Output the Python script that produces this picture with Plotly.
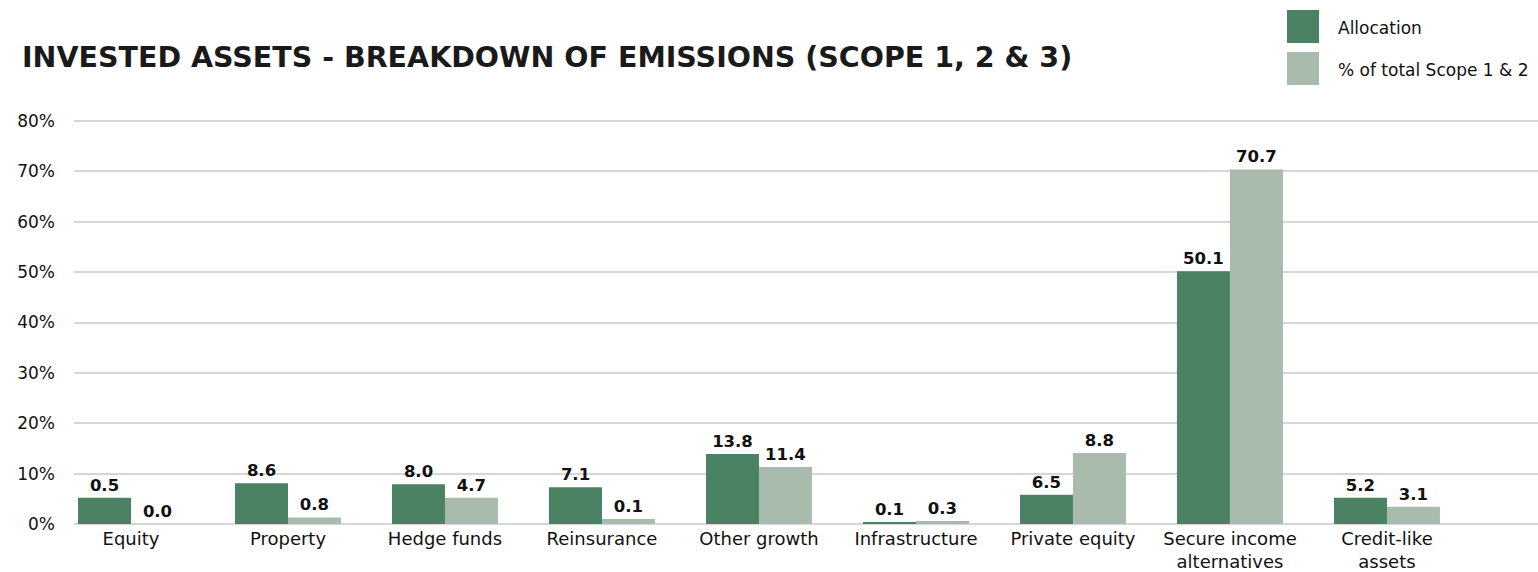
import plotly.graph_objects as go

categories = ["Equity", "Property", "Hedge funds", "Reinsurance", "Other growth",
              "Infrastructure", "Private equity", "Secure income<br>alternatives",
              "Credit-like<br>assets"]
allocation = [5.2, 8.1, 7.9, 7.3, 13.9, 0.4, 5.8, 50.2, 5.2]
allocation_labels = ["0.5", "8.6", "8.0", "7.1", "13.8", "0.1", "6.5", "50.1", "5.2"]
scope12 = [0.0, 1.3, 5.2, 1.0, 11.3, 0.6, 14.1, 70.4, 3.4]
scope12_labels = ["0.0", "0.8", "4.7", "0.1", "11.4", "0.3", "8.8", "70.7", "3.1"]
y_ticks = [0, 10, 20, 30, 40, 50, 60, 70, 80]
y_tick_labels = ["0%", "10%", "20%", "30%", "40%", "50%", "60%", "70%", "80%"]
series_names = ["Allocation", "% of total Scope 1 & 2"]

DARK = "#4a8263"
LIGHT = "#a9bbac"
TXT = "#111111"
FONT = "DejaVu Sans"
W, H = 1538, 572
ML, MR, MT, MB = 74, 0, 116, 48

label_font = dict(family=FONT, size=16.5, color=TXT, weight="bold")

fig = go.Figure()
fig.add_trace(go.Bar(x=categories, y=allocation, name=series_names[0],
                     marker=dict(color=DARK, line=dict(width=0)),
                     text=allocation_labels, textposition="outside",
                     textfont=label_font, cliponaxis=False))
fig.add_trace(go.Bar(x=categories, y=scope12, name=series_names[1],
                     marker=dict(color=LIGHT, line=dict(width=0)),
                     text=scope12_labels, textposition="outside",
                     textfont=label_font, cliponaxis=False))

fig.update_layout(
    width=W, height=H,
    margin=dict(l=ML, r=MR, t=MT, b=MB, autoexpand=False),
    paper_bgcolor="white", plot_bgcolor="white",
    barmode="group", bargap=0.325, bargroupgap=0,
    showlegend=False,
    title=dict(text="<b>INVESTED ASSETS - BREAKDOWN OF EMISSIONS (SCOPE 1, 2 & 3)</b>",
               x=22 / W, xanchor="left", xref="container",
               y=1 - 57 / H, yanchor="middle", yref="container",
               font=dict(family=FONT, size=28.5, color="#1a1a1a")),
    font=dict(family=FONT, color=TXT),
)
fig.update_xaxes(range=[-0.363, 8.962], showgrid=False, showline=False,
                 ticks="", tickfont=dict(family=FONT, size=18, color=TXT),
                 ticklabelstandoff=2, automargin=False)
fig.update_yaxes(range=[0, 81], tickmode="array", tickvals=y_ticks, ticktext=y_tick_labels,
                 showgrid=True, gridcolor="#d6d6d6", gridwidth=2,
                 zeroline=True, zerolinecolor="#d6d6d6", zerolinewidth=2,
                 showline=False, ticks="", ticklabelstandoff=18, automargin=False,
                 tickfont=dict(family=FONT, size=17, color=TXT))

# custom legend (large swatches at top right)
PW, PH = W - ML - MR, H - MT - MB
for i, (name, col) in enumerate(zip(series_names, [DARK, LIGHT])):
    y0 = 10 + i * 42
    fig.add_shape(type="rect", xref="paper", yref="paper",
                  x0=(1287 - ML) / PW, x1=(1319 - ML) / PW,
                  y0=(H - MB - (y0 + 33)) / PH, y1=(H - MB - y0) / PH,
                  fillcolor=col, line=dict(width=0), layer="above")
    fig.add_annotation(text=name, xref="paper", yref="paper",
                       x=(1336 - ML) / PW, xanchor="left",
                       y=(H - MB - (y0 + 18)) / PH, yanchor="middle",
                       showarrow=False,
                       font=dict(family=FONT, size=17, color=TXT))

fig.write_html("out.html")
